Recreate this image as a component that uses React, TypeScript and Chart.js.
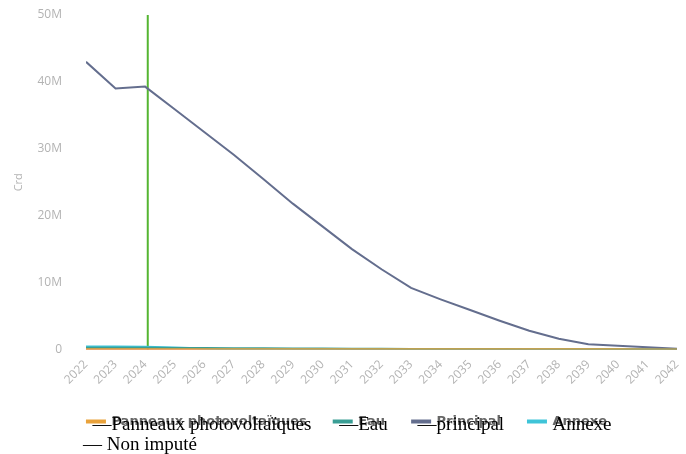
import React, { useEffect, useRef, useState } from 'react';
import { Chart, registerables } from 'chart.js';

Chart.register(...registerables);

// ---- Data (values in millions) ----
const years = [2022, 2023, 2024, 2025, 2026, 2027, 2028, 2029, 2030, 2031, 2032, 2033, 2034, 2035, 2036, 2037, 2038, 2039, 2040, 2041, 2042];
const principal = [43.0, 39.0, 39.3, 35.9, 32.5, 29.1, 25.5, 21.8, 18.4, 15.0, 12.0, 9.2, 7.5, 5.9, 4.3, 2.8, 1.6, 0.8, 0.55, 0.35, 0.1];
const panneaux = [0.02, 0.02, 0.02, 0.02, 0.02, 0.02, 0.02, 0.02, 0.02, 0.02, 0.02, 0.02, 0.02, 0.02, 0.02, 0.02, 0.02, 0.02, 0.02, 0.01, 0.01];
const eau = [0.28, 0.27, 0.26, 0.24, 0.22, 0.2, 0.18, 0.16, 0.14, 0.12, 0.1, 0.09, 0.08, 0.07, 0.06, 0.05, 0.04, 0.03, 0.02, 0.01, 0.0];
const annexe = [0.45, 0.43, 0.4, 0.3, 0.15, 0.0, 0.0, 0.0, 0.0, 0.0, 0.0, 0.0, 0.0, 0.0, 0.0, 0.0, 0.0, 0.0, 0.0, 0.0, 0.0];
const nonImpute = [0.0, 0.0, 0.0, 0.0, 0.0, 0.0, 0.0, 0.0, 0.0, 0.0, 0.0, 0.0, 0.0, 0.0, 0.0, 0.0, 0.0, 0.0, 0.0, 0.0, 0.0];
const todayYear = [2024.09, 2024.09];
const todayRange = [0, 50];
const yTicks = [0, 10, 20, 30, 40, 50];
const seriesLabels = ['Panneaux photovoltaïques', 'Eau', 'Principal', 'Annexe', 'Non imputé', "Aujourd'hui"];
const overlayLabels = ['Panneaux photovoltaïques', 'Eau', 'principal', 'Annexe'];
const overlayDash = [true, true, true, false];
const overlayExtra = 'Non imputé';
const yTitle = 'Crd';

const colors = ['#e9a23b', '#3a9e95', '#646e8e', '#3fc4d8', '#d9553f', '#55b531'];

const LEGEND_FONT = 13;
const LEGEND_BOX = 18;

type Pos = { left: number; top: number };

export default function App() {
  const canvasRef = useRef<HTMLCanvasElement | null>(null);
  const [pos, setPos] = useState<Pos[]>([]);

  useEffect(() => {
    if (!canvasRef.current) return;
    const toXY = (arr: number[]) => arr.map((v, i) => ({ x: years[i], y: v }));
    const series = [panneaux, eau, principal, annexe, nonImpute];
    const datasets: any[] = series.map((s, i) => ({
      label: seriesLabels[i],
      data: toXY(s),
      borderColor: colors[i],
      backgroundColor: colors[i],
      borderWidth: 2,
      pointRadius: 0,
      tension: 0,
    }));
    datasets.push({
      label: seriesLabels[5],
      data: todayYear.map((x, i) => ({ x, y: todayRange[i] })),
      borderColor: colors[5],
      backgroundColor: colors[5],
      borderWidth: 2,
      pointRadius: 0,
    });

    const chart = new Chart(canvasRef.current, {
      type: 'line',
      data: { datasets },
      options: {
        animation: false,
        responsive: true,
        maintainAspectRatio: false,
        layout: { padding: { left: 8, right: 0, top: 0, bottom: 0 } },
        plugins: {
          tooltip: { enabled: false },
          legend: {
            position: 'bottom',
            align: 'center',
            labels: {
              boxWidth: LEGEND_BOX,
              boxHeight: 2,
              padding: 27,
              color: '#666',
              font: { family: '"DejaVu Sans", sans-serif', size: LEGEND_FONT, weight: 'bold' },
              filter: (item: any) => item.datasetIndex < 4,
            },
          },
        },
        scales: {
          x: {
            type: 'linear',
            min: years[0],
            max: years[years.length - 1],
            grid: { display: false, drawTicks: false },
            border: { display: false },
            afterFit: (axis: any) => {
              axis.height = 38.5;
              axis.paddingLeft = 0;
              axis.paddingRight = 9;
            },
            ticks: {
              stepSize: 1,
              autoSkip: false,
              minRotation: 45,
              maxRotation: 45,
              padding: 8,
              color: '#b3b3b3',
              font: { family: '"Open Sans", sans-serif', size: 12 },
              callback: (v: any) => String(v),
            },
          },
          y: {
            min: yTicks[0],
            max: yTicks[yTicks.length - 1],
            grid: { display: false, drawTicks: false },
            border: { display: false },
            afterBuildTicks: (axis: any) => {
              axis.ticks = yTicks.map((v) => ({ value: v }));
            },
            afterFit: (axis: any) => {
              axis.width = 78;
              axis.paddingTop = 15;
              axis.paddingBottom = 0;
            },
            ticks: {
              padding: 24,
              color: '#b3b3b3',
              font: { family: '"Open Sans", sans-serif', size: 12 },
              callback: (v: any) => (v === 0 ? '0' : v + 'M'),
            },
            title: {
              display: true,
              text: yTitle,
              color: '#b3b3b3',
              padding: { top: 4, bottom: 8 },
              font: { family: '"Open Sans", sans-serif', size: 11 },
            },
          },
        },
      },
    });

    const lg: any = chart.legend;
    const hb = (lg && lg.legendHitBoxes) || [];
    const next: Pos[] = hb.map((b: any) => ({
      left: b.left + LEGEND_BOX + LEGEND_FONT / 2,
      top: b.top + b.height / 2 - 8,
    }));
    if (hb.length) next.push({ left: hb[0].left - 4, top: hb[0].top + hb[0].height / 2 + 12 });
    setPos(next);

    return () => chart.destroy();
  }, []);

  const serif: React.CSSProperties = {
    position: 'absolute',
    fontFamily: '"Liberation Serif", "Times New Roman", serif',
    fontSize: 19,
    lineHeight: '20px',
    color: '#000',
    whiteSpace: 'nowrap',
  };

  return (
    <div style={{ position: 'absolute', left: 0, top: 0, width: 686, height: 454, background: '#fff' }}>
      <div style={{ position: 'absolute', left: 0, top: 0, width: 686, height: 438 }}>
        <canvas ref={canvasRef} />
      </div>
      {pos.slice(0, overlayLabels.length).map((p, i) => (
        <span key={i} style={{ ...serif, left: p.left, top: p.top }}>
          {overlayDash[i] && <span style={{ position: 'absolute', right: '100%' }}>—</span>}
          {overlayLabels[i]}
        </span>
      ))}
      {pos.length > overlayLabels.length && (
        <span style={{ ...serif, left: pos[overlayLabels.length].left, top: pos[overlayLabels.length].top }}>
          — {overlayExtra}
        </span>
      )}
    </div>
  );
}
